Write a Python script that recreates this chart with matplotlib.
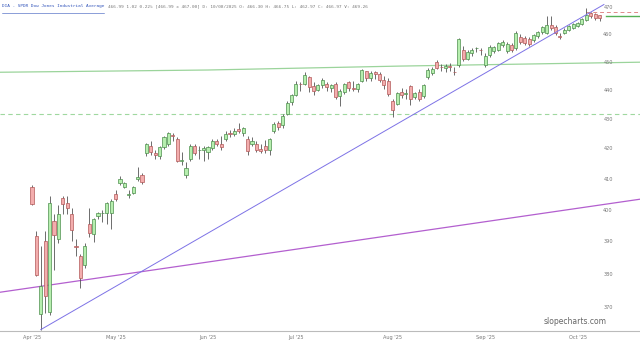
import numpy as np
import matplotlib.pyplot as plt
import matplotlib.transforms as mtransforms

plt.rcParams["font.family"] = ["DejaVu Sans"]

# --------------------------
# data (daily DIA candles)
# --------------------------
opens = [407.5, 391.8, 368.2, 390.3, 368.8, 396.4, 390.9, 403.9, 402.3, 398.9,
         388.6, 385.6, 382.8, 395.6, 392.4, 398.0, 399.0, 399.1, 399.2, 405.0,
         408.6, 407.5, 404.8, 405.5, 409.9, 411.2, 418.5, 421.0, 418.8, 417.5,
         420.8, 421.5, 424.8, 423.5, 416.0, 411.5, 416.5, 420.9, 419.5, 419.5,
         419.0, 420.3, 422.8, 421.8, 423.3, 425.5, 425.1, 426.8, 425.5, 423.5,
         421.5, 421.8, 419.9, 421.0, 419.5, 426.0, 428.8, 428.0, 432.0, 436.0,
         438.5, 442.5, 442.5, 444.8, 441.8, 440.3, 442.0, 442.5, 441.0, 442.5,
         438.0, 439.5, 443.0, 441.0, 440.6, 443.5, 446.8, 444.5, 446.5, 446.0,
         443.8, 443.5, 436.5, 435.5, 439.5, 438.8, 441.5, 437.8, 439.5, 438.0,
         444.8, 446.2, 450.2, 448.5, 448.0, 448.6, 446.7, 449.1, 454.5, 451.3,
         453.4, 455.2, 454.6, 449.1, 452.7, 454.1, 454.5, 456.3, 454.1, 456.3,
         455.2, 459.2, 458.8, 458.5, 458.1, 459.6, 461.0, 460.7, 463.6, 462.9,
         459.5, 460.7, 461.8, 462.5, 463.2, 464.0, 465.5, 468.0, 467.7, 467.3]
highs = [408.0, 393.5, 388.7, 393.5, 404.5, 398.9, 401.6, 404.5, 404.5, 400.5,
         391.0, 386.3, 389.5, 400.5, 397.6, 399.5, 399.9, 402.5, 403.6, 406.5,
         411.0, 409.0, 406.5, 407.8, 414.0, 412.0, 422.0, 422.5, 419.5, 421.0,
         424.5, 425.8, 425.5, 424.0, 419.0, 415.5, 421.5, 421.5, 421.0, 421.0,
         421.0, 423.5, 423.2, 424.5, 426.0, 426.5, 427.0, 428.8, 427.5, 424.5,
         424.0, 422.5, 421.8, 423.0, 423.8, 429.0, 429.5, 431.8, 436.5, 438.8,
         443.5, 443.0, 446.5, 445.0, 443.0, 442.5, 444.5, 443.0, 442.5, 443.0,
         440.5, 442.8, 443.5, 443.5, 442.8, 447.8, 447.0, 446.8, 447.0, 446.5,
         445.0, 444.5, 437.0, 439.5, 441.0, 440.5, 442.0, 439.5, 440.5, 442.3,
         448.0, 448.2, 451.0, 449.5, 449.5, 449.8, 448.4, 459.0, 455.9, 454.5,
         455.2, 455.6, 455.2, 453.4, 456.3, 456.0, 457.5, 458.1, 457.5, 457.0,
         461.5, 460.2, 459.6, 459.2, 460.3, 461.5, 463.4, 466.9, 466.9, 463.6,
         460.7, 462.5, 463.6, 464.4, 464.7, 466.2, 470.0, 468.4, 468.0, 467.5]
lows = [401.5, 379.5, 363.6, 368.5, 368.0, 381.3, 389.6, 398.9, 398.6, 390.3,
        385.7, 375.9, 382.0, 391.5, 390.0, 397.0, 396.2, 395.6, 394.0, 403.0,
        408.0, 407.0, 404.0, 405.0, 409.5, 408.5, 417.5, 418.0, 416.5, 416.5,
        420.0, 421.0, 422.5, 415.5, 414.5, 410.5, 416.0, 418.0, 416.5, 416.0,
        416.5, 419.5, 421.0, 419.8, 422.8, 424.0, 424.5, 425.5, 424.2, 418.0,
        421.0, 419.0, 418.5, 418.8, 418.0, 425.5, 426.5, 427.0, 431.5, 435.0,
        438.0, 440.0, 442.0, 439.5, 438.5, 439.8, 441.0, 440.0, 439.5, 437.2,
        434.5, 438.8, 440.0, 440.0, 439.5, 443.0, 443.5, 443.5, 444.0, 443.0,
        440.5, 438.0, 431.0, 435.0, 437.5, 437.0, 435.0, 437.0, 436.5, 437.5,
        444.0, 445.5, 447.5, 447.0, 446.5, 446.9, 445.5, 448.5, 450.5, 450.8,
        452.5, 453.8, 452.7, 448.4, 452.0, 453.5, 454.0, 455.6, 453.5, 453.8,
        454.5, 456.8, 456.3, 455.9, 457.4, 459.0, 460.5, 460.3, 461.8, 460.0,
        458.5, 460.3, 461.4, 462.1, 462.9, 463.6, 465.0, 466.2, 465.5, 465.1]
closes = [401.8, 379.9, 376.5, 373.6, 402.4, 392.1, 398.6, 401.9, 400.5, 393.6,
          388.3, 378.9, 388.7, 392.7, 397.3, 399.2, 399.2, 402.2, 402.8, 403.7,
          409.9, 408.6, 405.0, 407.4, 410.6, 409.0, 421.6, 418.9, 418.0, 420.7,
          424.0, 425.3, 424.2, 416.1, 416.1, 413.5, 420.9, 418.5, 419.6, 420.2,
          420.5, 422.6, 421.7, 420.7, 425.1, 425.0, 426.1, 426.1, 427.1, 419.4,
          422.6, 419.6, 419.2, 419.5, 423.3, 428.3, 427.3, 431.3, 435.6, 438.3,
          442.3, 442.2, 445.6, 441.4, 439.8, 441.9, 443.8, 441.1, 441.9, 437.6,
          439.9, 442.2, 440.8, 440.6, 442.3, 447.4, 444.3, 446.3, 445.7, 443.7,
          441.9, 438.7, 433.3, 439.1, 438.5, 439.3, 437.1, 439.1, 437.1, 441.9,
          447.3, 447.7, 448.0, 448.3, 448.6, 448.2, 446.5, 458.5, 451.3, 453.8,
          454.5, 455.3, 454.4, 452.3, 455.6, 455.6, 457.0, 457.4, 456.6, 454.5,
          460.7, 457.4, 457.0, 456.6, 459.9, 461.0, 462.9, 463.6, 462.5, 460.7,
          459.4, 461.8, 463.2, 464.0, 464.3, 465.8, 467.3, 466.9, 466.2, 466.2]

month_labels = ["Apr '25", "May '25", "Jun '25", "Jul '25", "Aug '25", "Sep '25", "Oct '25"]
month_idx = [0, 19, 40, 60, 82, 103, 124]

price_ticks = [470, 460, 450, 440, 430, 420, 410, 400, 390, 380, 370]

# drawn lines (index, price)
trend_x, trend_y = [2, 130], [363.6, 471.3]
long_x, long_y = [-7.3, 138.3], [374.6, 403.5]
ma_x = [-7.3, 40, 83.6, 138.3]
ma_y = [446.5, 447.3, 448.7, 450.1]
support_level = 431.8
high_level = 468.5
last_price = 466.99

# --------------------------
# figure
# --------------------------
fig = plt.figure(figsize=(6.4, 3.43), dpi=100)
ax = fig.add_axes([0, 12 / 343, 1, 331 / 343])
ax.set_yscale("log")
ax.set_xlim(-7.27, 138.2)
ax.set_ylim(363.2, 473.0)

x = np.arange(len(closes))
o = np.array(opens)
c = np.array(closes)
up = c >= o

# wicks
ax.vlines(x, lows, highs, color="#555555", linewidth=0.6, zorder=3)
# bodies
bottoms = np.minimum(o, c)
heights = np.maximum(np.abs(c - o), 0.15)
ax.bar(x[up], heights[up], bottom=bottoms[up], width=0.7,
       color="#b6eeae", edgecolor="#4e8f4e", linewidth=0.5, zorder=4)
ax.bar(x[~up], heights[~up], bottom=bottoms[~up], width=0.7,
       color="#f3adad", edgecolor="#b35a5a", linewidth=0.5, zorder=4)

# studies / drawn lines
ax.plot(ma_x, ma_y, color="#9bd49b", linewidth=0.9, zorder=2)
ax.axhline(support_level, color="#9fd89f", linewidth=0.8, linestyle=(0, (4, 3)), zorder=2)
ax.plot(long_x, long_y, color="#b35fcf", linewidth=0.9, zorder=2)
ax.plot(trend_x, trend_y, color="#7d72e6", linewidth=0.7, zorder=5)
ax.plot([126, 138.3], [high_level, high_level], color="#e08a8a", linewidth=0.7,
        linestyle=(0, (4, 3)), zorder=2)
ax.plot([130.5, 138.3], [last_price, last_price], color="#55b055", linewidth=1.0, zorder=2)

# axes styling
for s in ["top", "left", "right"]:
    ax.spines[s].set_visible(False)
ax.spines["bottom"].set_color("#bbbbbb")
ax.spines["bottom"].set_linewidth(0.8)
ax.set_yticks([])
ax.minorticks_off()
ax.set_xticks(month_idx)
ax.set_xticklabels(month_labels, fontsize=3.6, color="#777777")
ax.tick_params(axis="x", length=0, pad=3)

# price labels inside right edge
trans = mtransforms.blended_transform_factory(ax.transAxes, ax.transData)
for p in price_ticks:
    ax.text(0.95, p, str(p), transform=trans, fontsize=3.6, color="#777777",
            ha="center", va="center")

# header line
fig.text(0.003, 0.988, "DIA - SPDR Dow Jones Industrial Average", fontsize=3.2,
         family="DejaVu Sans Mono", color="#3355bb", ha="left", va="top")
fig.text(0.168, 0.988,
         "466.99 1.02 0.22% [466.99 x 467.00] D: 10/08/2025 O: 466.30 "
         "H: 466.75 L: 462.97 C: 466.97 V: 469.26",
         fontsize=3.2, family="DejaVu Sans Mono", color="#777777", ha="left", va="top")
fig.add_artist(plt.Line2D([0.003, 0.162], [0.963, 0.963], color="#3355bb", linewidth=0.4))

fig.text(0.898, 0.062, "slopecharts.com", fontsize=5.5, color="#666666", ha="center", va="center")

fig.savefig("out.png", dpi=100)
